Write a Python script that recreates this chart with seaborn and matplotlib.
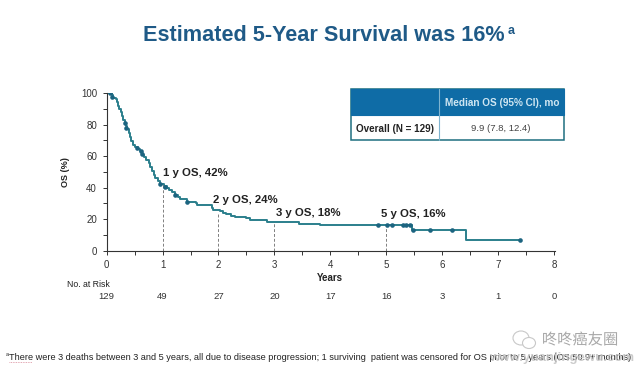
"""Kaplan-Meier OS curve with at-risk row, median OS table and footnote."""
import matplotlib.patheffects as pe
import matplotlib.pyplot as plt
from matplotlib.patches import Ellipse, Rectangle
import seaborn as sns
import pandas as pd

W, H = 640, 370

YEARS = [0, 0.07, 0.09, 0.11, 0.16, 0.18, 0.20, 0.22, 0.25, 0.27, 0.30, 0.32, 0.35, 0.37, 0.39, 0.41,
         0.44, 0.47, 0.50, 0.56, 0.60, 0.64, 0.67, 0.71, 0.76, 0.78, 0.81, 0.84, 0.87, 0.91, 0.95, 1.02,
         1.07, 1.12, 1.17, 1.22, 1.27, 1.32, 1.43, 1.60, 1.62, 1.85, 1.88, 1.90, 2.02, 2.08, 2.14, 2.22,
         2.30, 2.47, 2.50, 2.57, 2.83, 2.86, 3.36, 3.44, 3.78, 3.81, 5.42, 5.47, 6.42, 7.40]
OS_PCT = [100, 100, 98.5, 97, 96, 94, 92, 90, 88, 85.5, 83, 81, 79, 77, 74.5, 72,
          69.5, 67, 65.5, 64.5, 63, 61, 59.5, 57.5, 55.5, 53, 50.5, 48, 46, 44, 42.5, 41,
          40, 38.5, 37, 35.5, 34, 32.6, 31, 30.5, 29, 29, 27, 25.5, 25, 24, 23, 22.3,
          21.5, 21.5, 20.5, 19.5, 19.5, 18.5, 18.5, 17, 17, 16, 16, 13.3, 6.7, 6.7]
CENSOR_YEARS = [0.06, 0.10, 0.32, 0.35, 0.55, 0.62, 0.64, 0.96, 1.05, 1.22, 1.43,
                4.86, 5.02, 5.11, 5.30, 5.36, 5.42, 5.48, 5.78, 6.17, 7.40]
CENSOR_OS = [100, 97.5, 81, 78, 65, 63, 61.5, 42, 40.5, 35.5, 31,
             16, 16, 16, 16, 16, 16, 13.3, 13.3, 13.3, 6.7]
LANDMARK_YEARS = [1, 2, 3, 5]
LANDMARK_OS = [42, 24, 18, 16]
LANDMARK_LABELS = ["1 y OS, 42%", "2 y OS, 24%", "3 y OS, 18%", "5 y OS, 16%"]
AT_RISK_YEARS = [0, 1, 2, 3, 4, 5, 6, 7, 8]
AT_RISK = [129, 49, 27, 20, 17, 16, 3, 1, 0]

CURVE = "#2b7f8c"
MARK = "#1c6480"
BLUE = "#0f6ca6"
TITLE = "#1f5a87"
FOOTNOTE = ("There were 3 deaths between 3 and 5 years, all due to disease progression; "
            "1 surviving  patient was censored for OS prior to 5 years (OS 50.9+ months)")


def fx(px):
    return px / W


def fy(py):
    return 1 - py / H


sns.set_theme(style="ticks")
plt.rcParams["font.family"] = ["Liberation Sans", "Noto Sans CJK SC"]

fig = plt.figure(figsize=(W / 100, H / 100), dpi=100, facecolor="white")
ax = fig.add_axes([fx(106.7), fy(250.7), fx(448.3), fy(93) - fy(250.7)])
ax.patch.set_alpha(0)

curve = pd.DataFrame({"years": YEARS, "os": OS_PCT})
censored = pd.DataFrame({"years": CENSOR_YEARS, "os": CENSOR_OS})
sns.lineplot(data=curve, x="years", y="os", drawstyle="steps-post", color=CURVE, linewidth=1.4,
             errorbar=None, ax=ax)
sns.scatterplot(data=censored, x="years", y="os", color=MARK, s=11, linewidth=0, ax=ax, zorder=3)

for year, pct in zip(LANDMARK_YEARS, LANDMARK_OS):
    ax.plot([year, year], [0, pct], color="#808080", linewidth=0.7, dashes=(3, 2))
ax.text(1, 46, LANDMARK_LABELS[0], fontsize=8.2, fontweight="bold", color="#222222", va="bottom")
ax.text(1.9, 29, LANDMARK_LABELS[1], fontsize=8.2, fontweight="bold", color="#222222", va="bottom")
ax.text(3.02, 21, LANDMARK_LABELS[2], fontsize=8.2, fontweight="bold", color="#222222", va="bottom")
ax.text(4.9, 20, LANDMARK_LABELS[3], fontsize=8.2, fontweight="bold", color="#222222", va="bottom")

ax.set_xlim(0, 8.02)
ax.set_ylim(0, 100)
ax.set_xticks(range(9))
ax.set_xticks([v + 0.5 for v in range(8)], minor=True)
ax.set_yticks(range(0, 101, 20))
ax.set_yticks(range(10, 100, 20), minor=True)
ax.tick_params(axis="both", which="major", labelsize=7, length=3, width=0.7, color="#333333",
               labelcolor="#333333", pad=4)
ax.tick_params(axis="both", which="minor", length=3, width=0.7, color="#333333")
ax.spines[["top", "right"]].set_visible(False)
ax.spines[["left", "bottom"]].set_linewidth(0.8)
ax.spines[["left", "bottom"]].set_color("#333333")
ax.set_xlabel("")
ax.set_ylabel("")

fig.text(fx(66), fy(172), "OS (%)", fontsize=6.5, fontweight="bold", rotation=90, ha="center", va="center",
         color="#222222")
fig.text(fx(330), fy(278), "Years", fontsize=7, fontweight="bold", ha="center", va="center", color="#222222")
fig.text(fx(88), fy(284.5), "No. at Risk", fontsize=6.3, ha="center", va="center", color="#222222")
for year, count in zip(AT_RISK_YEARS, AT_RISK):
    ax.annotate(str(count), (year, 0), xycoords=("data", "axes fraction"), xytext=(0, -45.5),
                textcoords="offset pixels", fontsize=6.8, ha="center", va="center", color="#333333")

fig.text(fx(143), fy(35.5), "Estimated 5-Year Survival was 16%", fontsize=15.6, fontweight="bold",
         color=TITLE, ha="left", va="center")
fig.text(fx(508), fy(31), "a", fontsize=9, fontweight="bold", color=TITLE, ha="left", va="center")

# Median OS table
fig.add_artist(Rectangle((fx(351), fy(140.3)), fx(212.7), fy(89.3) - fy(140.3), transform=fig.transFigure,
                         facecolor="white", edgecolor="#1e6f80", linewidth=1.1))
fig.add_artist(Rectangle((fx(351), fy(115)), fx(212.7), fy(89.3) - fy(115), transform=fig.transFigure,
                         facecolor=BLUE, edgecolor=BLUE, linewidth=0.8))
fig.add_artist(plt.Line2D([fx(439), fx(439)], [fy(89.3), fy(140.3)], transform=fig.transFigure,
                          color="#7fb4d0", linewidth=0.8))
fig.text(fx(502), fy(103), "Median OS (95% CI), mo", fontsize=7.2, fontweight="bold", color="#cfe6f2",
         ha="center", va="center")
fig.text(fx(395.5), fy(128.5), "Overall (N = 129)", fontsize=7.1, fontweight="bold", color="#222222",
         ha="center", va="center")
fig.text(fx(501), fy(128.5), "9.9 (7.8, 12.4)", fontsize=6.8, color="#444444", ha="center", va="center")

# footnote and watermark
fig.text(fx(9), fy(357), FOOTNOTE, fontsize=6.55, color="#222222", ha="left", va="center")
fig.text(fx(6), fy(355), "a", fontsize=4, color="#222222", ha="left", va="center")
fig.add_artist(plt.Line2D([fx(9), fx(32)], [fy(361.5), fy(361.5)], transform=fig.transFigure,
                          color="#d98a9a", linewidth=0.6, dashes=(1, 1)))
halo = [pe.withStroke(linewidth=2.5, foreground="white")]
fig.text(fx(580), fy(340), "咚咚癌友圈", fontsize=11, color="#a8a8a8", ha="center", va="center",
         path_effects=halo)
fig.add_artist(Ellipse((fx(521), fy(338)), fx(16), fx(14) * W / H, transform=fig.transFigure,
                       facecolor="white", edgecolor="#c8c8c8", linewidth=0.8))
fig.add_artist(Ellipse((fx(529), fy(343)), fx(13), fx(11) * W / H, transform=fig.transFigure,
                       facecolor="white", edgecolor="#c8c8c8", linewidth=0.8))
fig.text(fx(562), fy(358), "www.yuanjingewu.com", fontsize=9.5, fontweight="bold", color="#c4c4c4",
         ha="center", va="center", alpha=0.85)

fig.savefig("out.png", dpi=100, facecolor="white")
